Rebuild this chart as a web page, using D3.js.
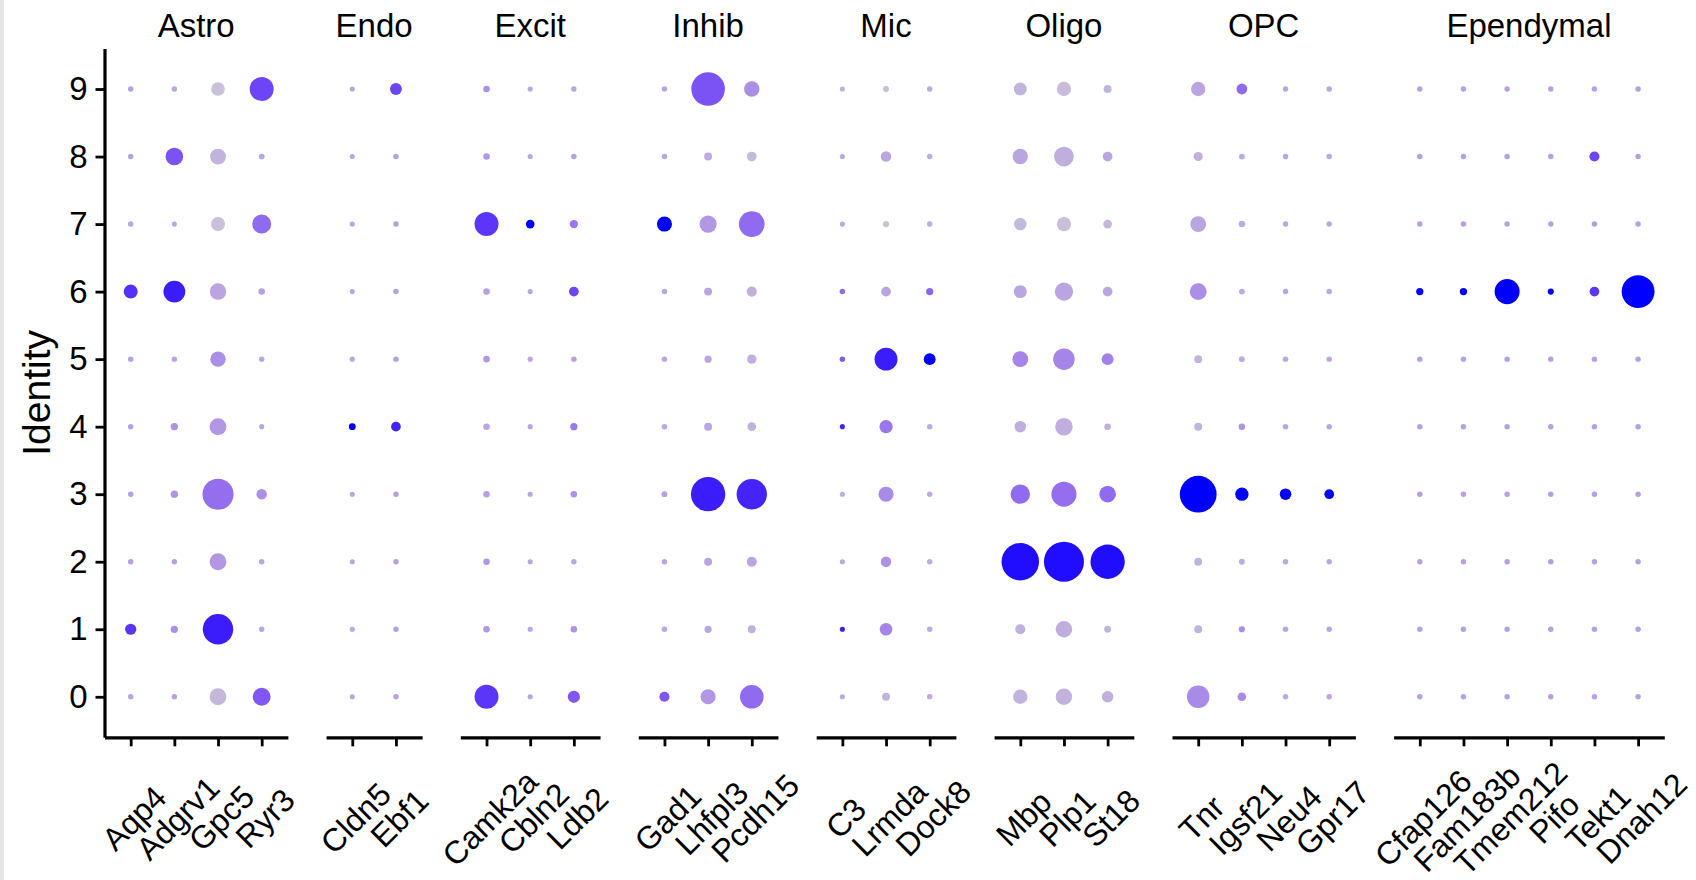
<!DOCTYPE html>
<html><head><meta charset="utf-8">
<script src="https://cdn.jsdelivr.net/npm/d3@7"></script>
<style>html,body{margin:0;padding:0;background:#fff;} svg{display:block;}</style>
</head><body>
<svg id="chart" width="1696" height="880"></svg>
<script>
// ---------------- data ----------------
const clusters = ["0","1","2","3","4","5","6","7","8","9"];
const groups = ["Astro","Endo","Excit","Inhib","Mic","Oligo","OPC","Ependymal"];
const groupGenes = [
  ["Aqp4","Adgrv1","Gpc5","Ryr3"],
  ["Cldn5","Ebf1"],
  ["Camk2a","Cbln2","Ldb2"],
  ["Gad1","Lhfpl3","Pcdh15"],
  ["C3","Lrmda","Dock8"],
  ["Mbp","Plp1","St18"],
  ["Tnr","Igsf21","Neu4","Gpr17"],
  ["Cfap126","Fam183b","Tmem212","Pifo","Tekt1","Dnah12"]
];
const genes = groupGenes.flat();
// percent expressed, per gene (order of `genes`), clusters 0..9
const pctExpressed = [
  [3,19,3,3,3,3,27,3,3,3],        // Aqp4
  [3,8,3,8,8,3,49,2,37,3],        // Adgrv1
  [35,73,35,75,35,31,34,27,32,26],// Gpc5
  [38,3,3,17,2,3,6,41,4,55],      // Ryr3
  [2,2,2,2,7,2,2,2,2,2],          // Cldn5
  [3,3,3,3,15,3,3,3,3,21],        // Ebf1
  [55,6,6,6,6,6,6,55,6,6],        // Camk2a
  [2,2,2,2,2,2,2,12,2,2],         // Cbln2
  [22,6,3,6,8,3,15,11,3,3],       // Ldb2
  [16,3,3,4,3,3,3,30,3,3],        // Gad1
  [30,8,10,84,10,8,10,36,10,82],  // Lhfpl3
  [54,10,16,73,12,14,16,60,15,31],// Pcdh15
  [2,2,2,2,2,3,3,2,2,2],          // C3
  [10,23,17,30,25,52,15,5,17,4],  // Lrmda
  [3,3,3,3,3,21,8,3,3,3],         // Dock8
  [28,16,93,42,20,32,24,23,31,24],// Mbp
  [34,34,100,58,37,48,39,28,43,28],// Plp1
  [20,7,84,34,6,21,15,12,15,10],  // St18
  [51,10,10,91,10,10,35,32,13,28],// Tnr
  [12,5,4,25,6,4,4,6,4,18],       // Igsf21
  [3,3,3,20,3,3,3,3,3,3],         // Neu4
  [3,3,3,15,3,3,3,3,3,3],         // Gpr17
  [3,3,3,3,3,3,8,3,3,3],          // Cfap126
  [3,3,3,3,3,3,8,3,3,3],          // Fam183b
  [3,3,3,3,3,3,58,3,3,3],         // Tmem212
  [3,3,3,3,3,3,5,3,3,3],          // Pifo
  [3,3,3,3,3,3,15,3,16,3],        // Tekt1
  [3,3,3,3,3,3,80,3,3,3]          // Dnah12
];
// scaled average expression, same layout
const avgExpScaled = [
  [-0.75,1.6,-0.7,-0.7,-0.7,-0.7,1.7,-0.8,-0.7,-0.7],
  [-0.7,-0.3,-0.7,-0.4,-0.4,-0.8,2.0,-0.85,1.0,-0.8],
  [-1.2,2.0,-0.5,0.4,-0.5,-0.3,-0.8,-1.4,-1.1,-1.4],
  [0.9,-0.85,-0.8,-0.3,-0.85,-0.8,-0.7,0.5,-0.8,1.3],
  [-0.8,-0.8,-0.8,-0.8,2.5,-0.8,-0.8,-0.8,-0.8,-0.8],
  [-0.7,-0.7,-0.7,-0.7,1.9,-0.7,-0.7,-0.7,-0.7,1.3],
  [1.6,-0.5,-0.5,-0.7,-0.8,-0.5,-0.7,1.6,-0.5,-0.3],
  [-0.8,-0.8,-0.8,-0.8,-0.8,-0.8,-0.8,2.5,-0.8,-0.8],
  [0.9,-0.4,-0.8,-0.4,0.2,-0.7,1.3,0.2,-0.7,-0.8],
  [0.9,-0.8,-0.8,-0.7,-0.8,-0.8,-0.8,2.4,-0.8,-0.8],
  [-0.5,-0.85,-0.8,2.0,-0.8,-0.85,-0.8,-0.5,-0.9,1.0],
  [0.5,-1.05,-0.8,1.9,-1.05,-1.05,-1.05,0.5,-1.25,-0.3],
  [-0.85,2.0,-0.85,-1.0,1.9,0.9,0.5,-0.85,-0.85,-1.0],
  [-1.1,-0.1,-0.4,-0.2,0.2,2.0,-0.8,-1.4,-0.8,-1.3],
  [-0.9,-0.9,-0.9,-0.9,-0.9,2.5,0.6,-0.95,-0.9,-0.9],
  [-1.1,-1.0,2.2,0.5,-1.0,-0.1,-0.8,-1.25,-0.8,-1.1],
  [-1.1,-1.0,2.2,0.4,-1.0,-0.1,-0.8,-1.4,-1.0,-1.3],
  [-1.0,-1.1,2.2,0.5,-1.0,0.0,-0.8,-1.2,-0.8,-1.1],
  [-0.2,-1.1,-1.1,2.5,-1.1,-1.1,-0.3,-0.8,-1.05,-0.8],
  [-0.2,-0.3,-0.9,2.4,-0.4,-0.9,-0.9,-0.9,-0.9,0.5],
  [-0.85,-0.85,-0.85,2.5,-0.85,-0.85,-0.85,-0.85,-0.85,-0.85],
  [-0.85,-0.85,-0.85,2.5,-0.85,-0.85,-0.85,-0.85,-0.85,-0.85],
  [-0.7,-0.7,-0.7,-0.7,-0.7,-0.7,2.5,-0.7,-0.7,-0.7],
  [-0.7,-0.7,-0.7,-0.7,-0.7,-0.7,2.5,-0.7,-0.7,-0.7],
  [-0.7,-0.7,-0.7,-0.7,-0.7,-0.7,2.5,-0.7,-0.7,-0.7],
  [-0.7,-0.7,-0.7,-0.7,-0.7,-0.7,2.5,-0.7,-0.7,-0.7],
  [-0.7,-0.7,-0.7,-0.7,-0.7,-0.7,1.6,-0.7,1.3,-0.7],
  [-0.7,-0.7,-0.7,-0.7,-0.7,-0.7,2.5,-0.7,-0.7,-0.7]
];
const yTitle = "Identity";

// ---------------- layout ----------------
const FONT = "'Liberation Sans', Arial, Helvetica, sans-serif";
const plotLeft = 104.5, plotRight = 1664.3, plotTop = 48.5, plotBottom = 737.3;
const gap = 38.2, expand = 0.6;

const svg = d3.select("#chart");
svg.append("rect").attr("width",1696).attr("height",880).attr("fill","#fff");
svg.append("rect").attr("x",0).attr("y",0).attr("width",4).attr("height",880).attr("fill","#e6e6e6");

const units = groupGenes.map(g => g.length - 1 + 2*expand);
const unit = (plotRight - plotLeft - gap*(groups.length-1)) / d3.sum(units);
let cur = plotLeft;
const panels = groups.map((name,i) => {
  const w = units[i]*unit;
  const p = {name, genes: groupGenes[i], x0: cur, x1: cur + w};
  cur += w + gap;
  p.x = d3.scalePoint().domain(p.genes).range([p.x0, p.x1]).padding(expand);
  return p;
});

const y = d3.scalePoint().domain(clusters).range([plotBottom, plotTop]).padding(0.6);
const r = d3.scaleLinear().domain([0,100]).range([2.2,20]);
const color = d3.scaleLinear().domain([-1.8,2.3]).range(["lightgrey","blue"])
  .interpolate(d3.interpolateLab).clamp(true);

const dots = [];
genes.forEach((g,gi) => clusters.forEach((c,ci) => {
  dots.push({gene:g, cluster:c, pct: pctExpressed[gi][ci], avg: avgExpScaled[gi][ci]});
}));

panels.forEach(p => {
  const g = svg.append("g");
  g.selectAll("circle").data(dots.filter(d => p.genes.includes(d.gene)))
    .join("circle")
    .attr("cx", d => p.x(d.gene))
    .attr("cy", d => y(d.cluster))
    .attr("r", d => r(d.pct))
    .attr("fill", d => color(d.avg));

  // strip title
  svg.append("text").attr("x", (p.x0+p.x1)/2).attr("y", 37)
    .attr("text-anchor","middle").attr("font-family",FONT).attr("font-size",33)
    .attr("fill","#000").text(p.name);

  // x axis
  const ax = svg.append("g").attr("transform",`translate(0,${plotBottom})`)
    .call(d3.axisBottom(p.x).tickSize(9).tickSizeOuter(0));
  ax.select(".domain").attr("stroke","#000").attr("stroke-width",3.2);
  ax.selectAll(".tick line").attr("stroke","#000").attr("stroke-width",2.8);
  ax.selectAll(".tick text")
    .attr("x",0).attr("y",0).attr("dy",null)
    .attr("dominant-baseline","central")
    .attr("text-anchor","middle")
    .attr("transform","translate(3,81) rotate(-45)")
    .attr("font-family",FONT).attr("font-size",32).attr("fill","#000");
});

// y axis
const ay = svg.append("g").attr("transform",`translate(${plotLeft},0)`)
  .call(d3.axisLeft(y).tickSize(9).tickSizeOuter(0).tickPadding(8));
ay.select(".domain").attr("stroke","#000").attr("stroke-width",3.2);
ay.selectAll(".tick line").attr("stroke","#000").attr("stroke-width",2.8);
ay.selectAll(".tick text").attr("font-family",FONT).attr("font-size",33).attr("fill","#000");

svg.append("text").attr("transform",`translate(50,${(plotTop+plotBottom)/2}) rotate(-90)`)
  .attr("text-anchor","middle").attr("font-family",FONT).attr("font-size",39)
  .attr("fill","#000").text(yTitle);
</script>
</body></html>
